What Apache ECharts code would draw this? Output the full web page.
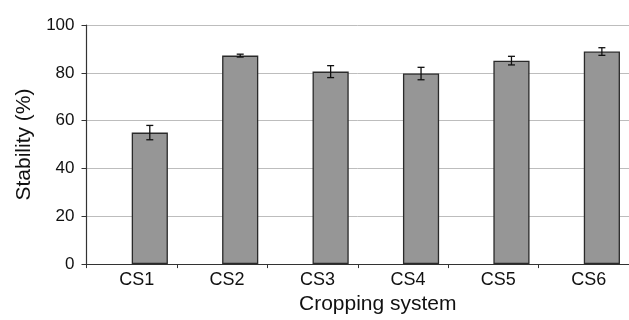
<!DOCTYPE html>
<html>
<head>
<meta charset="utf-8">
<script src="https://cdn.jsdelivr.net/npm/echarts@6/dist/echarts.min.js"></script>
<style>
  html, body { margin: 0; padding: 0; background: #fff; }
  #chart { width: 629px; height: 320px; }
</style>
</head>
<body>
<div id="chart"></div>
<script>
var categories = ["CS1", "CS2", "CS3", "CS4", "CS5", "CS6"];
var stability = [55.0, 87.2, 80.5, 79.7, 85.1, 88.9];
var errors = [3.0, 0.6, 2.5, 2.6, 1.8, 1.6];
var yTicks = [0, 20, 40, 60, 80, 100];

var font = "Liberation Sans";
var chart = echarts.init(document.getElementById("chart"));

chart.setOption({
  animation: false,
  grid: {
    left: 86.5,
    right: -6.5,
    top: 25,
    bottom: 53.5
  },
  xAxis: {
    type: "category",
    data: categories,
    boundaryGap: true,
    name: "Cropping system",
    nameLocation: "middle",
    nameGap: 29,
    nameTextStyle: {
      fontFamily: font,
      fontSize: 21,
      color: "#111",
      padding: [0, 0, 0, 40]
    },
    axisLine: { lineStyle: { color: "#333", width: 1.2 } },
    axisTick: { show: true, interval: 0, length: 4, lineStyle: { color: "#333" } },
    axisLabel: {
      fontFamily: font,
      fontSize: 18,
      color: "#111",
      margin: 7,
      padding: [0, 0, 0, 10]
    }
  },
  yAxis: {
    type: "value",
    min: yTicks[0],
    max: yTicks[yTicks.length - 1],
    interval: 20,
    name: "Stability (%)",
    nameLocation: "middle",
    nameGap: 52,
    nameTextStyle: { fontFamily: font, fontSize: 21, color: "#111" },
    axisLine: { show: true, lineStyle: { color: "#333", width: 1.2 } },
    axisTick: { show: true, length: 5, lineStyle: { color: "#333" } },
    axisLabel: { fontFamily: font, fontSize: 17, color: "#111", margin: 12 },
    splitLine: { lineStyle: { color: "#bdbdbd", width: 1 } }
  },
  series: [
    {
      // empty slot so the real bars sit right of the category centre
      type: "bar",
      data: categories.map(function () { return "-"; }),
      barGap: 0,
      barCategoryGap: "20%"
    },
    {
      type: "bar",
      data: stability,
      barGap: 0,
      barCategoryGap: "20%",
      itemStyle: { color: "#969696", borderColor: "#2a2a2a", borderWidth: 1.3 }
    },
    {
      type: "custom",
      data: stability.map(function (v, i) { return [i, v, errors[i]]; }),
      z: 10,
      renderItem: function (params, api) {
        var i = api.value(0);
        var v = api.value(1);
        var e = api.value(2);
        var band = api.size([1, 0])[0];
        var hi = api.coord([i, v + e]);
        var lo = api.coord([i, v - e]);
        var x = hi[0] + band * 0.2;
        var cap = 3.5;
        var style = { stroke: "#111", lineWidth: 1.3 };
        return {
          type: "group",
          children: [
            { type: "line", shape: { x1: x, y1: hi[1], x2: x, y2: lo[1] }, style: style },
            { type: "line", shape: { x1: x - cap, y1: hi[1], x2: x + cap, y2: hi[1] }, style: style },
            { type: "line", shape: { x1: x - cap, y1: lo[1], x2: x + cap, y2: lo[1] }, style: style }
          ]
        };
      }
    }
  ]
});
</script>
</body>
</html>
